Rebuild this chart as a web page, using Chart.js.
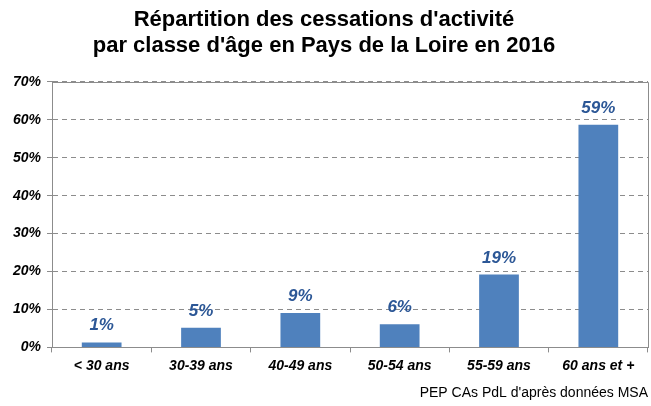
<!DOCTYPE html>
<html>
<head>
<meta charset="utf-8">
<script src="https://cdn.jsdelivr.net/npm/chart.js@4/dist/chart.umd.min.js"></script>
<style>
  html, body { margin: 0; padding: 0; background: #fff; }
  #wrap { width: 651px; height: 406px; }
</style>
</head>
<body>
<div id="wrap"><canvas id="chartOne"></canvas></div>
<script>
var categories = ['< 30 ans', '30-39 ans', '40-49 ans', '50-54 ans', '55-59 ans', '60 ans et +'];
var shares = [1.3, 5.2, 9.1, 6.1, 19.2, 58.7];
var shareLabels = ['1%', '5%', '9%', '6%', '19%', '59%'];
var titleLines = ["Répartition des cessations d'activité", "par classe d'âge en Pays de la Loire en 2016"];
var sourceText = "PEP CAs PdL d'après données MSA";

// labels above bars + border of plot area
const barLabels = {
    id: 'barLabels',
    afterDatasetsDraw(chart) {
        const ctx = chart.ctx;
        const area = chart.chartArea;
        ctx.save();
        ctx.strokeStyle = '#8c8c8c';
        ctx.lineWidth = 1;
        ctx.setLineDash([]);
        ctx.beginPath();
        ctx.moveTo(Math.round(area.left), Math.round(area.top) + 0.5);
        ctx.lineTo(Math.round(area.right) + 0.5, Math.round(area.top) + 0.5);
        ctx.lineTo(Math.round(area.right) + 0.5, Math.round(area.bottom) + 0.5);
        ctx.stroke();
        ctx.fillStyle = '#2c5796';
        ctx.font = 'italic bold 17px "Liberation Sans", Arial, sans-serif';
        ctx.textAlign = 'center';
        ctx.textBaseline = 'alphabetic';
        chart.getDatasetMeta(0).data.forEach((bar, i) => {
            ctx.fillText(shareLabels[i], bar.x, bar.y - 12);
        });
        ctx.restore();
    }
};

var chartOne = document.getElementById('chartOne');
var myChart = new Chart(chartOne, {
    type: 'bar',
    data: {
        labels: categories,
        datasets: [{
            data: shares,
            backgroundColor: '#4f81bd',
            borderWidth: 0,
            barPercentage: 0.4,
            categoryPercentage: 1
        }]
    },
    options: {
        responsive: true,
        maintainAspectRatio: false,
        animation: false,
        layout: { padding: { left: 0, right: 3, top: 4, bottom: 4 } },
        plugins: {
            legend: { display: false },
            tooltip: { enabled: false },
            title: {
                display: true,
                text: titleLines,
                color: '#000',
                font: { family: '"Liberation Sans", Arial, sans-serif', size: 22, weight: 'bold', lineHeight: 1.18 },
                padding: { top: 3, bottom: 23 }
            },
            subtitle: {
                display: true,
                position: 'bottom',
                align: 'end',
                text: sourceText,
                color: '#000',
                font: { family: '"Liberation Sans", Arial, sans-serif', size: 14, weight: 'normal' },
                padding: { top: 6, bottom: 0 }
            }
        },
        scales: {
            x: {
                offset: true,
                grid: {
                    offset: true,
                    drawOnChartArea: false,
                    drawTicks: true,
                    tickLength: 5,
                    color: '#8c8c8c'
                },
                border: { color: '#8c8c8c' },
                ticks: {
                    color: '#000',
                    padding: 5,
                    font: { family: '"Liberation Sans", Arial, sans-serif', size: 14, style: 'italic', weight: 'bold' }
                }
            },
            y: {
                min: 0,
                max: 70,
                afterFit: function (scale) { scale.width = 52; },
                grid: {
                    color: '#8c8c8c',
                    tickLength: 5,
                    tickBorderDash: []
                },
                border: { color: '#8c8c8c', dash: [5, 4] },
                ticks: {
                    stepSize: 10,
                    color: '#000',
                    padding: 6,
                    callback: function (v) { return v + '%'; },
                    font: { family: '"Liberation Sans", Arial, sans-serif', size: 14, style: 'italic', weight: 'bold' }
                }
            }
        }
    },
    plugins: [barLabels]
});
</script>
</body>
</html>
